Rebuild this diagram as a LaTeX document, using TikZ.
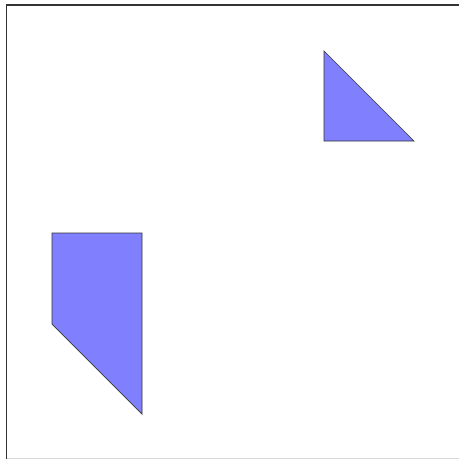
\documentclass[tikz,border=0pt]{standalone}
\usetikzlibrary{backgrounds}

\tikzset{piece/.style={draw=black!80, fill=blue!50, line width=0.7pt, line join=miter}}

\begin{document}
\begin{tikzpicture}[x=1pt, y=-1pt]
	\useasboundingbox (0,0) rectangle (459,459);
	% frame
	\draw[black!80, line width=1.5pt] (6.5,459) -- (6.5,5) -- (459,5);
	\draw[black!15, line width=0.6pt] (6.5,458.5) -- (459,458.5);
	% triangle
	\draw[piece] (324,51) -- (414,141) -- (324,141) -- cycle;
	% five-sided piece
	\draw[piece] (52,233) -- (142,233) -- (142,414) -- (52,324) -- cycle;
\end{tikzpicture}
\end{document}
